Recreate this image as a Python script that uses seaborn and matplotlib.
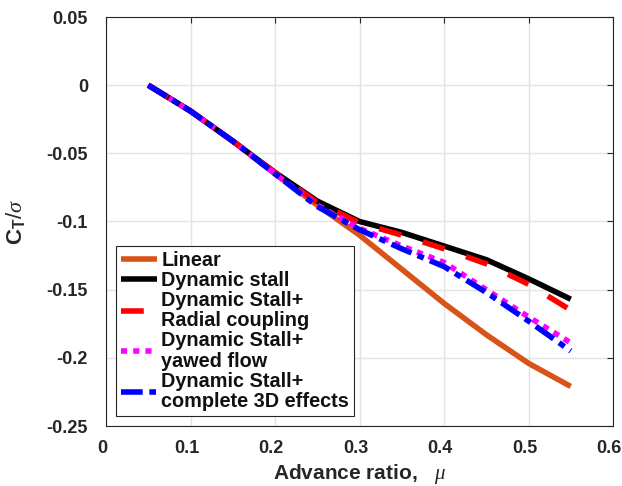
import matplotlib
matplotlib.use("Agg")
import matplotlib.pyplot as plt
import matplotlib.transforms as mtransforms
import seaborn as sns
import pandas as pd

mu = [0.05, 0.10, 0.15, 0.20, 0.25, 0.30, 0.35, 0.40, 0.45, 0.50, 0.55]
linear = [0, -0.019, -0.041, -0.065, -0.088, -0.110, -0.135, -0.160, -0.183, -0.204, -0.221]
dyn_stall = [0, -0.019, -0.041, -0.064, -0.085, -0.100, -0.108, -0.118, -0.128, -0.142, -0.157]
radial = [0, -0.019, -0.041, -0.064, -0.086, -0.101, -0.110, -0.120, -0.131, -0.146, -0.165]
yawed = [0, -0.019, -0.041, -0.065, -0.088, -0.105, -0.118, -0.130, -0.150, -0.170, -0.189]
full3d = [0, -0.019, -0.041, -0.065, -0.089, -0.106, -0.120, -0.133, -0.152, -0.173, -0.195]

labels = ["Linear", "Dynamic stall", "Dynamic Stall+\nRadial coupling",
          "Dynamic Stall+\nyawed flow", "Dynamic Stall+\ncomplete 3D effects"]
series = [linear, dyn_stall, radial, yawed, full3d]
colors = ["#D95319", "#000000", "#FF0000", "#FF00FF", "#0000FF"]
dash_patterns = [None, None, (4.1, 4.1), (1.1, 1.1), (3.9, 1.2, 1.2, 1.2)]

xticks = [0, 0.1, 0.2, 0.3, 0.4, 0.5, 0.6]
xticklabels = ["0", "0.1", "0.2", "0.3", "0.4", "0.5", "0.6"]
yticks = [-0.25, -0.2, -0.15, -0.1, -0.05, 0, 0.05]
yticklabels = ["-0.25", "-0.2", "-0.15", "-0.1", "-0.05", "0", "0.05"]

sns.set_theme(style="whitegrid")
plt.rcParams["font.family"] = ["Liberation Sans", "DejaVu Sans"]
plt.rcParams["mathtext.fontset"] = "custom"
plt.rcParams["mathtext.rm"] = "Liberation Sans"
plt.rcParams["mathtext.bf"] = "Liberation Sans:bold"
plt.rcParams["mathtext.it"] = "Liberation Serif:italic"

fig = plt.figure(figsize=(6.22, 4.86), dpi=100)
ax = fig.add_axes([106 / 622, 60 / 486, 507 / 622, 409 / 486])
ax.set_facecolor("white")

lw = 4
for lab, vals, col, dp in zip(labels, series, colors, dash_patterns):
    df = pd.DataFrame({"mu": mu, "ct": vals})
    sns.lineplot(data=df, x="mu", y="ct", ax=ax, color=col, lw=lw, label=lab)
    line = ax.get_lines()[-1]
    if dp is not None:
        line.set_dashes(dp)
        line.set_dash_capstyle("butt")
    else:
        line.set_solid_capstyle("butt")

ax.set_xlim(0, 0.6)
ax.set_ylim(-0.25, 0.05)
ax.set_xticks(xticks)
ax.set_xticklabels(xticklabels)
ax.set_yticks(yticks)
ax.set_yticklabels(yticklabels)

ax.grid(True, color="#e3e3e3", lw=1.0)
for s in ax.spines.values():
    s.set_color("#262626")
    s.set_linewidth(0.8)
    s.set_visible(True)

ax.tick_params(axis="both", which="both", direction="in", length=4, width=0.8,
               color="#262626", top=True, right=True, labelsize=13,
               labelcolor="#262626")
ax.tick_params(axis="x", pad=10)
ax.tick_params(axis="y", pad=13)
shift = mtransforms.ScaledTranslation(-4 / 100, 0, fig.dpi_scale_trans)
for t in ax.get_xticklabels():
    t.set_fontweight("bold")
    t.set_transform(t.get_transform() + shift)
for t in ax.get_yticklabels():
    t.set_fontweight("bold")

ax.set_xlabel("Advance ratio,   $\\mu$", fontsize=15, fontweight="bold",
              color="#262626", labelpad=4)
ax.set_ylabel("$\\mathbf{C}_\\mathbf{T}/\\sigma$", fontsize=16, color="#262626",
              labelpad=14)

leg = ax.legend(loc="lower left", bbox_to_anchor=(10 / 507, 10 / 409), borderaxespad=0,
                prop={"weight": "bold", "size": 14.3}, frameon=True, fancybox=False,
                edgecolor="#262626", framealpha=1, handlelength=1.8,
                handletextpad=0.24, labelspacing=0.05, borderpad=0.25)
leg.get_frame().set_linewidth(0.8)
for t in leg.get_texts():
    t.set_color("#111111")
    t.set_linespacing(1.1)

fig.savefig("out.png", dpi=100)
